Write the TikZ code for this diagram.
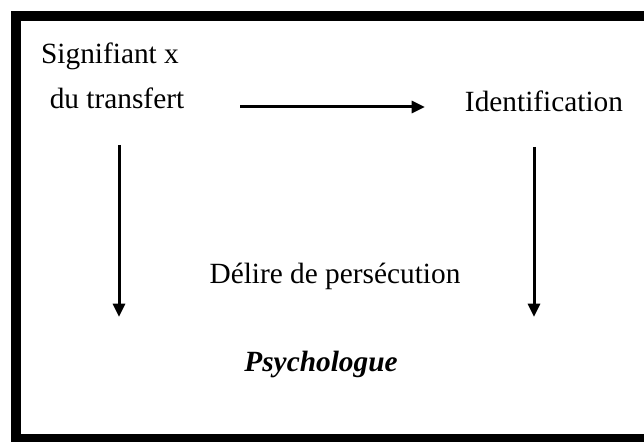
\documentclass[tikz,border=0pt]{standalone}
\usepackage{fontspec}
\setmainfont{Liberation Serif}
\usetikzlibrary{arrows.meta}

\tikzset{
  label text/.style={font=\fontsize{22}{26}\selectfont, inner sep=0pt},
  flow arrow/.style={line width=2.25pt, -{Triangle[length=10pt,width=9pt]}},
}

\begin{document}
\begin{tikzpicture}[x=0.75pt,y=0.75pt,yscale=-1,xscale=1]
\useasboundingbox (0,0) rectangle (644,442);
\clip (0,0) rectangle (644,442);

%Shape: Rectangle (frame)
\draw [line width=7.5pt] (16,16) -- (660,16) -- (660,439) -- (16,439) -- cycle ;

% Text Node
\node [label text] (signifiant) at (110,56) {Signifiant x};
% Text Node
\node [label text] (transfert) at (117,98) {du transfert};
% Text Node
\node [label text] (identification) at (544,101) {Identification};
% Text Node
\node [label text] (delire) at (335,276) {Délire de persécution};
% Text Node
\node [label text, font=\fontsize{22}{26}\selectfont\bfseries\itshape] (psychologue) at (321,364) {Psychologue};

% arrow ends
\coordinate (h start) at (240,107);
\coordinate (h end) at (425,107);
\coordinate (l start) at (119,145);
\coordinate (l end) at (119,317);
\coordinate (r start) at (534,147);
\coordinate (r end) at (534,317);

%Straight Lines
\draw [flow arrow] (h start) -- (h end) ;
%Straight Lines
\draw [flow arrow] (l start) -- (l end) ;
%Straight Lines
\draw [flow arrow] (r start) -- (r end) ;

\end{tikzpicture}
\end{document}
